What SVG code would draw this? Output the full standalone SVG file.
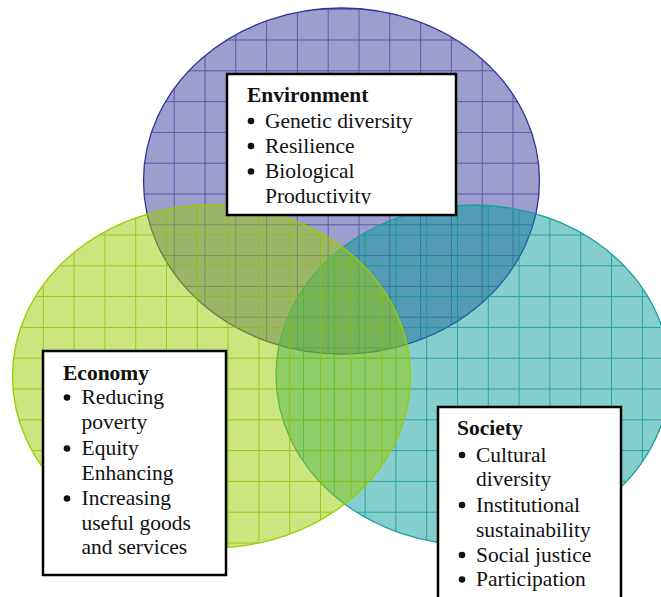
<svg xmlns="http://www.w3.org/2000/svg" width="661" height="597" viewBox="0 0 661 597">
  <style>
    .box { fill: #ffffff; stroke: #000000; stroke-width: 2.5; }
    .txt { font-family: "Liberation Serif", "Times New Roman", serif; font-size: 21.5px; fill: #111111; }
    .head { font-weight: bold; }
    .dot { fill: #111111; }
  </style>
  <defs>
    <!-- semi-transparent fills with a square grid, one per circle -->
    <pattern id="gridEnv" patternUnits="userSpaceOnUse" x="19.7" y="8.7" width="30.8" height="30.8">
      <rect width="30.8" height="30.8" fill="#333399" fill-opacity="0.48"/>
      <path d="M0 0.5H30.8M0.5 0V30.8" stroke="#2a2a90" stroke-width="1" stroke-opacity="0.6" fill="none"/>
    </pattern>
    <pattern id="gridEco" patternUnits="userSpaceOnUse" x="12" y="18.9" width="30.8" height="30.8">
      <rect width="30.8" height="30.8" fill="#99cc00" fill-opacity="0.5"/>
      <path d="M0 0.5H30.8M0.5 0V30.8" stroke="#8cc000" stroke-width="1" stroke-opacity="0.8" fill="none"/>
    </pattern>
    <pattern id="gridSoc" patternUnits="userSpaceOnUse" x="25.8" y="18.9" width="30.8" height="30.8">
      <rect width="30.8" height="30.8" fill="#009999" fill-opacity="0.48"/>
      <path d="M0 0.5H30.8M0.5 0V30.8" stroke="#069690" stroke-width="1" stroke-opacity="0.75" fill="none"/>
    </pattern>
    <clipPath id="envClip">
      <rect x="228" y="75" width="227" height="129.5"/>
    </clipPath>
  </defs>

  <!-- the three overlapping circles -->
  <g id="circles">
    <ellipse id="circle-environment" cx="341.5" cy="181" rx="198" ry="173" fill="url(#gridEnv)" stroke="#333399" stroke-width="1.3"/>
    <ellipse id="circle-society" cx="473" cy="375" rx="197" ry="170" fill="url(#gridSoc)" stroke="#1a9e9e" stroke-width="1.3"/>
    <ellipse id="circle-economy" cx="211.5" cy="376.5" rx="199" ry="171.5" fill="url(#gridEco)" stroke="#99cc00" stroke-width="1.3"/>
  </g>

  <!-- Environment label box -->
  <g id="node-environment">
    <rect class="box" x="227" y="74" width="229" height="141"/>
    <g clip-path="url(#envClip)">
      <text class="txt head" x="247" y="102">Environment</text>
      <circle class="dot" cx="251" cy="121" r="3.3"/>
      <text class="txt" x="265" y="127.5">Genetic diversity</text>
      <circle class="dot" cx="251" cy="146" r="3.3"/>
      <text class="txt" x="265" y="152.5">Resilience</text>
      <circle class="dot" cx="251" cy="171.5" r="3.3"/>
      <text class="txt" x="265" y="178">Biological</text>
      <text class="txt" x="265" y="202.5">Productivity</text>
    </g>
  </g>

  <!-- Economy label box -->
  <g id="node-economy">
    <rect class="box" x="43" y="351" width="183" height="224"/>
    <text class="txt head" x="63" y="379.5">Economy</text>
    <circle class="dot" cx="67" cy="397.5" r="3.3"/>
    <text class="txt" x="81.5" y="404">Reducing</text>
    <text class="txt" x="81.5" y="429">poverty</text>
    <circle class="dot" cx="67" cy="448.5" r="3.3"/>
    <text class="txt" x="81.5" y="455">Equity</text>
    <text class="txt" x="81.5" y="479.5">Enhancing</text>
    <circle class="dot" cx="67" cy="498.5" r="3.3"/>
    <text class="txt" x="81.5" y="505">Increasing</text>
    <text class="txt" x="81.5" y="530">useful goods</text>
    <text class="txt" x="81.5" y="554">and services</text>
  </g>

  <!-- Society label box -->
  <g id="node-society">
    <rect class="box" x="438" y="407" width="183" height="200"/>
    <text class="txt head" x="457" y="435">Society</text>
    <circle class="dot" cx="462" cy="455" r="3.3"/>
    <text class="txt" x="476" y="461.5">Cultural</text>
    <text class="txt" x="476" y="486">diversity</text>
    <circle class="dot" cx="462" cy="505" r="3.3"/>
    <text class="txt" x="476" y="511.5">Institutional</text>
    <text class="txt" x="476" y="536.5">sustainability</text>
    <circle class="dot" cx="462" cy="555" r="3.3"/>
    <text class="txt" x="476" y="561.5">Social justice</text>
    <circle class="dot" cx="462" cy="579.5" r="3.3"/>
    <text class="txt" x="476" y="586">Participation</text>
  </g>

  <!-- no connectors in this figure -->
  <g id="connectors"/>
</svg>
